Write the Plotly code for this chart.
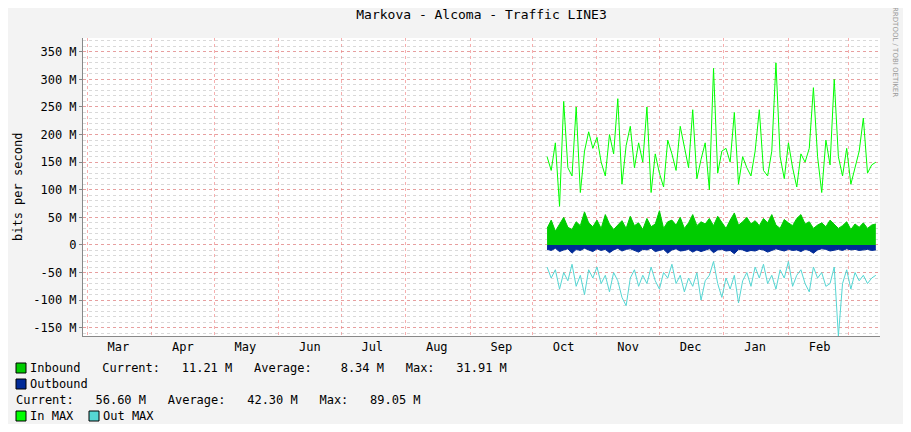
import plotly.graph_objects as go
import pandas as pd

dates = pd.date_range("2011-10-08", periods=80, freq="2D")

inmax = [160,135,185,70,260,140,125,250,95,170,
         205,175,195,150,125,200,165,265,110,180,
         215,140,185,150,250,95,165,130,105,190,
         165,135,215,180,140,245,120,155,185,100,
         320,130,170,175,150,240,110,160,140,125,
         170,245,135,125,170,330,160,120,185,140,
         105,165,150,175,285,160,95,190,145,300,
         160,125,175,110,140,170,230,130,145,150]
inbound = [30,45,25,38,50,32,28,42,35,60,40,33,45,30,55,38,28,36,44,30,
           52,35,40,28,48,33,38,62,30,42,45,36,50,30,40,55,35,42,38,48,
           35,52,40,30,45,58,36,42,50,38,44,35,48,40,55,36,30,46,40,35,
           48,55,38,42,30,36,40,33,45,38,30,35,42,28,38,32,40,30,36,38]
outbound = [-8,-10,-6,-12,-9,-7,-15,-8,-10,-6,-9,-12,-7,-10,-8,-14,-9,-6,-11,-8,
            -7,-10,-13,-8,-9,-6,-12,-10,-8,-15,-9,-7,-11,-10,-8,-13,-9,-12,-10,-7,
            -14,-9,-8,-11,-10,-16,-8,-9,-12,-10,-11,-8,-9,-13,-10,-7,-9,-11,-8,-10,
            -9,-12,-8,-10,-15,-9,-7,-8,-11,-9,-8,-10,-7,-9,-8,-10,-9,-8,-10,-9]
outmax = [-40,-60,-45,-80,-50,-65,-35,-75,-55,-90,-45,-60,-40,-70,-55,-85,-50,-65,-95,-110,
          -60,-45,-75,-55,-70,-40,-65,-80,-50,-60,-35,-70,-55,-85,-60,-75,-50,-100,-65,-55,
          -30,-70,-95,-60,-80,-55,-105,-65,-50,-75,-40,-60,-35,-70,-55,-80,-45,-60,-30,-75,
          -55,-45,-70,-85,-40,-60,-50,-75,-70,-40,-165,-70,-45,-80,-50,-65,-55,-70,-60,-55]

month_mid = pd.date_range("2011-03-01", periods=12, freq="MS") + pd.Timedelta(days=15)
month_labels = ["Mar","Apr","May","Jun","Jul","Aug","Sep","Oct","Nov","Dec","Jan","Feb"]

yticks = [-150,-100,-50,0,50,100,150,200,250,300,350]
yticklabels = [("0" if v == 0 else f"{v} M") for v in yticks]

FONT = "DejaVu Sans Mono"
W, H = 895, 416
L, T, R, B = 75, 30, 23, 88
PL, PB, PR, PT = 83, 336, 880, 38   # plot edges in window pixels

fig = go.Figure()
fig.add_trace(go.Scatter(x=dates, y=inbound, mode="lines", fill="tozeroy",
                         line=dict(color="#00CC00", width=1), fillcolor="#00CC00"))
fig.add_trace(go.Scatter(x=dates, y=outbound, mode="lines", fill="tozeroy",
                         line=dict(color="#002A97", width=1), fillcolor="#002A97"))
fig.add_trace(go.Scatter(x=dates, y=inmax, mode="lines", line=dict(color="#00FF00", width=1)))
fig.add_trace(go.Scatter(x=dates, y=outmax, mode="lines", line=dict(color="#55D6D3", width=1)))

fig.update_layout(
    width=W, height=H, showlegend=False,
    paper_bgcolor="#F3F3F3", plot_bgcolor="#FFFFFF",
    margin=dict(l=L, r=R, t=T, b=B, autoexpand=False),
    font=dict(family=FONT, size=12, color="#000"),
    title=dict(text="Markova - Alcoma - Traffic LINE3", x=0.5, xanchor="center",
               xref="paper", y=1 - 6/H, yanchor="middle", font=dict(family=FONT, size=13)),
    xaxis=dict(type="date", range=["2011-02-27", "2012-03-16"],
               tickvals=month_mid, ticktext=month_labels, showgrid=False,
               minor=dict(dtick="M1", tick0="2011-03-01", showgrid=True,
                          gridcolor="rgba(240,120,120,0.6)", griddash="dot", ticks=""),
               showline=True, linecolor="#888", ticks="", zeroline=False, automargin=False,
               tickfont=dict(family=FONT, size=12)),
    yaxis=dict(range=[-165, 375], tickvals=yticks, ticktext=yticklabels,
               showgrid=True, gridcolor="rgba(240,120,120,0.6)", griddash="dot",
               minor=dict(dtick=10, showgrid=True, gridcolor="rgba(170,170,170,0.45)", griddash="dot"),
               showline=True, linecolor="#888", zeroline=False, ticks="outside",
               ticklen=3, tickcolor="#888", automargin=False,
               tickfont=dict(family=FONT, size=12)),
)

def px_ann(text, px, py, **kw):
    fig.add_annotation(text=text, xref="paper", yref="paper", x=0, y=0,
                       xanchor="left", yanchor="middle", showarrow=False,
                       xshift=px - PL, yshift=-(py - PB),
                       font=dict(family=FONT, size=12, color="#000"), **kw)

def square(px, py, color):
    fig.add_shape(type="rect", xref="paper", yref="paper", xsizemode="pixel", ysizemode="pixel",
                  xanchor=0, yanchor=0, x0=px - PL, x1=px - PL + 10,
                  y0=-(py - PB) - 5, y1=-(py - PB) + 5,
                  fillcolor=color, line=dict(color="#000", width=1))

square(16, 368, "#00CC00")
px_ann("Inbound   Current:   11.21 M   Average:    8.34 M   Max:   31.91 M", 28, 368)
square(16, 384, "#002A97")
px_ann("Outbound", 28, 384)
px_ann("Current:   56.60 M   Average:   42.30 M   Max:   89.05 M", 14, 400)
square(16, 416, "#00FF00")
px_ann("In MAX", 28, 416)
square(89, 416, "#55D6D3")
px_ann("Out MAX", 101, 416)

# y-axis title
fig.add_annotation(text="bits per second", xref="paper", yref="paper", x=0, y=0.5,
                   xanchor="center", yanchor="middle", showarrow=False, textangle=-90,
                   xshift=18 - PL, font=dict(family=FONT, size=12, color="#000"))

fig.add_annotation(text="RRDTOOL / TOBI OETIKER", xref="paper", yref="paper", x=1, y=1,
                   xanchor="center", yanchor="top", showarrow=False, textangle=90,
                   xshift=895 - PR, yshift=PT - 5,
                   font=dict(family="DejaVu Sans", size=7, color="#999"))

fig.write_html("out.html")
